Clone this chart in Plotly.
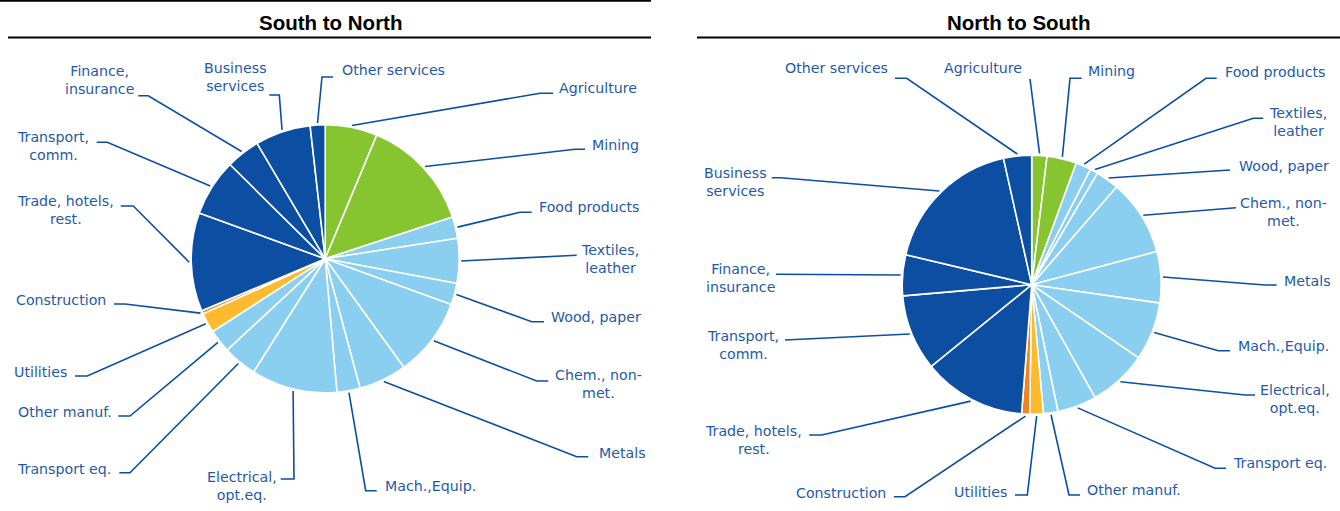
import math
import plotly.graph_objects as go

W, H = 1340, 511

# ---------------- data ----------------
sectors = ["Agriculture", "Mining", "Food products", "Textiles, leather", "Wood, paper",
           "Chem., non-met.", "Metals", "Mach.,Equip.", "Electrical, opt.eq.", "Transport eq.",
           "Other manuf.", "Utilities", "Construction", "Trade, hotels, rest.",
           "Transport, comm.", "Finance, insurance", "Business services", "Other services"]
sector_labels = ["Agriculture", "Mining", "Food products", "Textiles,<br>leather", "Wood, paper",
                 "Chem., non-<br>met.", "Metals", "Mach.,Equip.", "Electrical,<br>opt.eq.",
                 "Transport eq.", "Other manuf.", "Utilities", "Construction",
                 "Trade, hotels,<br>rest.", "Transport,<br>comm.", "Finance,<br>insurance",
                 "Business<br>services", "Other services"]
sector_group = ["primary", "primary", "manuf", "manuf", "manuf", "manuf", "manuf", "manuf",
                "manuf", "manuf", "manuf", "utilities", "construction", "services",
                "services", "services", "services", "services"]
south_to_north = [6.3, 13.7, 2.6, 5.4, 2.6, 9.5, 5.8, 2.8, 10.4, 4.1, 2.8, 2.4, 0.4,
                  11.9, 6.9, 4.1, 6.7, 1.8]
north_to_south = [1.9, 3.7, 1.9, 1.0, 2.9, 9.5, 6.4, 7.3, 7.3, 4.9, 1.8, 1.7, 1.0,
                  12.9, 9.5, 5.1, 17.8, 3.5]
chart_titles = ["South to North", "North to South"]

# ---------------- style ----------------
group_colors = {"primary": "#86C430", "manuf": "#8ACFF0", "utilities": "#FDBA2D",
                "construction": "#F58220", "services": "#0B4EA2"}
line_color = "#0B4EA2"
text_color = "#1F5AA8"
FONT = "DejaVu Sans"
FS = 14.2

# pie geometry (pixels): centre x, centre y, radius
pies = [dict(cx=325.2, cy=258.8, r=134.0), dict(cx=1031.7, cy=284.7, r=129.5)]
title_pos = [(330, 22, 8, 651), (1018, 22, 697, 1340)]

# label layout per pie: elbow x, elbow y, end x, text x, text y, anchor
label_layout = [
    [(540, 93.3, 553, 557, 88, "left"),
     (575, 149.3, 585, 590, 144.5, "left"),
     (520, 212.3, 531.7, 536.7, 207, "left"),
     (576.7, 255.3, 576.7, 610, 259, "center"),
     (531.7, 321.7, 544, 549.3, 316.5, "left"),
     (536.7, 381, 548.3, 598.5, 384.3, "center"),
     (576.7, 456.7, 588.3, 596.7, 452.5, "left"),
     (365.7, 490.7, 376.7, 382.7, 486, "left"),
     (294, 479, 280.7, 242, 486.3, "center"),
     (130, 472.7, 119.3, 113.3, 469, "right"),
     (130, 416, 118.3, 114.3, 411.5, "right"),
     (87.3, 376, 75, 69.3, 371.5, "right"),
     (125, 304, 114, 108.3, 300, "right"),
     (133.3, 206, 120.7, 65.5, 209.5, "center"),
     (107.3, 142.3, 96.7, 53.3, 146, "center"),
     (148.3, 95.7, 138.3, 99.2, 80.3, "center"),
     (279.3, 95, 269.3, 235.5, 77, "center"),
     (322, 77, 333, 340, 69.5, "left")],
    [(1030, 79, 1030, 1024.3, 67.7, "right"),
     (1070, 78.3, 1081.7, 1086, 71, "left"),
     (1206, 78.3, 1216.7, 1222.7, 72.3, "left"),
     (1253.3, 118.3, 1263.3, 1298, 122.3, "center"),
     (1230, 170, 1230, 1236.7, 165.7, "left"),
     (1236, 207.7, 1236, 1283.8, 211.7, "center"),
     (1265, 285, 1276.7, 1281.7, 281, "left"),
     (1218.3, 350.7, 1230, 1236, 346, "left"),
     (1245, 395, 1255, 1294.5, 398.7, "center"),
     (1215, 468.3, 1226, 1230.7, 463.3, "left"),
     (1069, 495, 1080, 1085, 490, "left"),
     (1027.3, 495, 1015, 1009, 492.3, "right"),
     (905, 496.7, 894, 887.7, 493.3, "right"),
     (821.7, 435, 809.3, 753.8, 439.8, "center"),
     (786.7, 340, 785, 742.5, 345, "center"),
     (776, 274.3, 776, 740, 278, "center"),
     (780.7, 177.7, 771.7, 735.5, 182.3, "center"),
     (906.7, 78.3, 895, 890, 67.7, "right")],
]

colors = [group_colors[g] for g in sector_group]

fig = go.Figure()
annotations = []
shapes = []

for k, values in enumerate([south_to_north, north_to_south]):
    p = pies[k]
    fig.add_trace(go.Pie(
        labels=sectors, values=values, sort=False, direction="clockwise", rotation=0,
        marker=dict(colors=colors, line=dict(color="white", width=1.6)),
        textinfo="none", hoverinfo="label+percent", showlegend=False,
        domain=dict(x=[(p["cx"] - p["r"]) / W, (p["cx"] + p["r"]) / W],
                    y=[1 - (p["cy"] + p["r"]) / H, 1 - (p["cy"] - p["r"]) / H]),
    ))
    # leader lines computed from slice mid-angles
    total = sum(values)
    cum = 0.0
    xs, ys = [], []
    for i, v in enumerate(values):
        mid = (cum + v / 2) / total * 2 * math.pi
        cum += v
        sx = p["cx"] + (p["r"] + 2) * math.sin(mid)
        sy = p["cy"] - (p["r"] + 2) * math.cos(mid)
        ex, ey, hx, tx, ty, anc = label_layout[k][i]
        xs += [sx, ex, hx, None]
        ys += [sy, ey, ey, None]
        annotations.append(dict(
            x=tx, y=ty, xref="x", yref="y", text=sector_labels[i], showarrow=False,
            xanchor=anc, yanchor="middle", align="center",
            font=dict(family=FONT, size=FS, color=text_color)))
    fig.add_trace(go.Scatter(x=xs, y=ys, mode="lines", hoverinfo="skip", showlegend=False,
                             line=dict(color=line_color, width=1.6)))
    tx, ty, x0, x1 = title_pos[k]
    annotations.append(dict(x=tx, y=ty, xref="x", yref="y", text="<b>%s</b>" % chart_titles[k],
                            showarrow=False, xanchor="center", yanchor="middle",
                            font=dict(family="Liberation Sans", size=20.5, color="#000000")))
    shapes.append(dict(type="line", xref="x", yref="y", x0=x0, x1=x1, y0=37.5, y1=37.5,
                       line=dict(color="#000000", width=2)))

shapes.append(dict(type="line", xref="x", yref="y", x0=0, x1=651, y0=0.8, y1=0.8,
                   line=dict(color="#000000", width=2)))

fig.update_layout(
    width=W, height=H, margin=dict(l=0, r=0, t=0, b=0),
    paper_bgcolor="white", plot_bgcolor="rgba(0,0,0,0)",
    xaxis=dict(range=[0, W], visible=False, fixedrange=True, domain=[0, 1]),
    yaxis=dict(range=[H, 0], visible=False, fixedrange=True, domain=[0, 1]),
    annotations=annotations, shapes=shapes,
)

fig.write_html("out.html", config={"displayModeBar": False},
               post_script="document.body.style.margin='0';document.body.style.overflow='hidden';")
